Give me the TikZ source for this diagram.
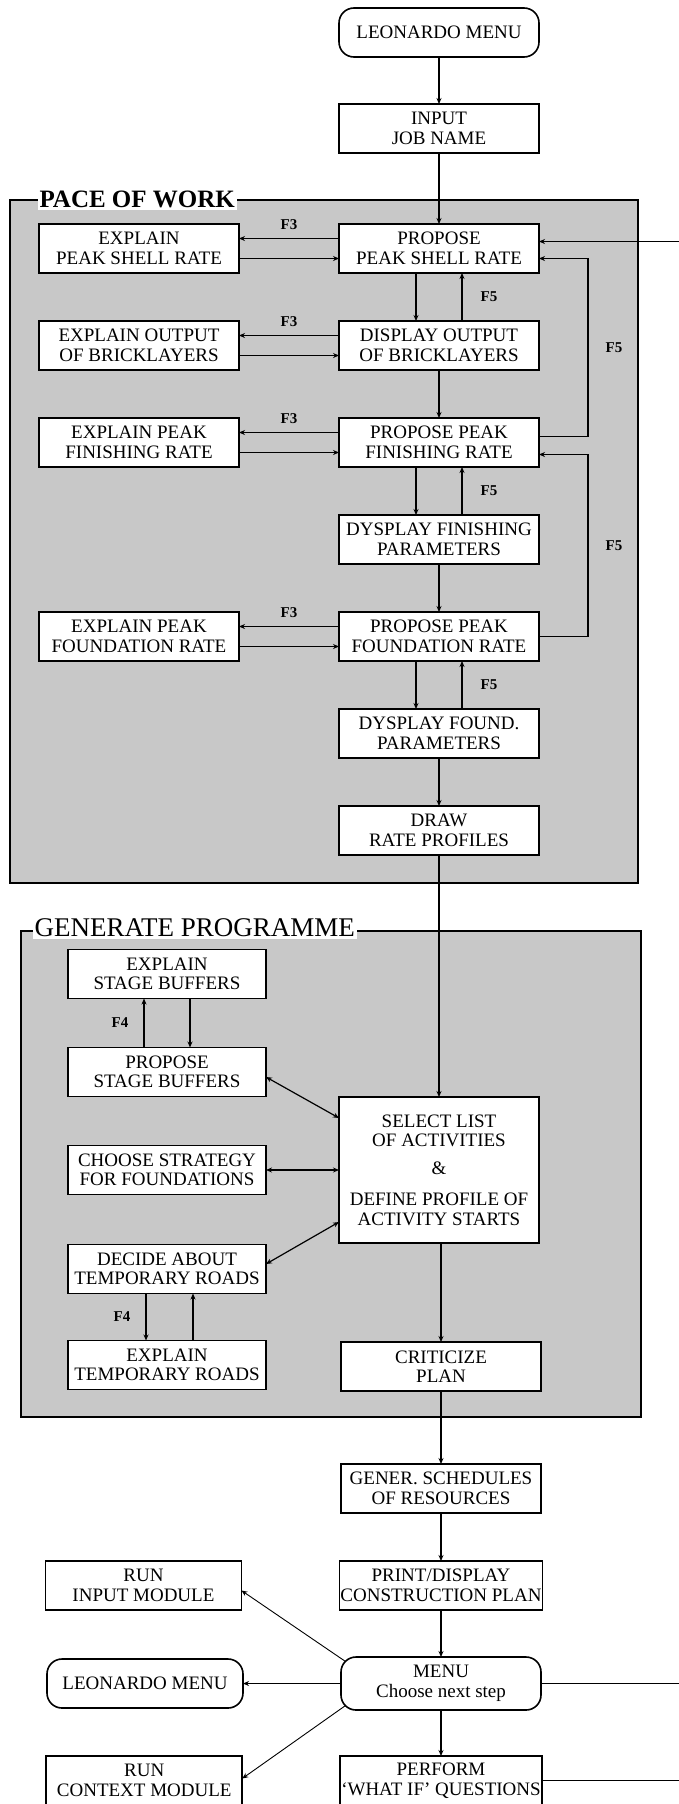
\documentclass[tikz,border=0pt]{standalone}
\usepackage{fontspec}
\setmainfont{Liberation Serif}
\usetikzlibrary{arrows.meta, positioning, fit, backgrounds}
\definecolor{stipple}{HTML}{C8C8C8}

\begin{document}
\begin{tikzpicture}[
    x=1pt, y=1pt,
    node distance=48pt and 100pt,
    box/.style={rectangle, draw=black, fill=white, line width=1.6pt, outer sep=0pt, minimum width=200pt, minimum height=49pt, inner sep=1pt, align=center, font=\fontsize{19}{19.5}\selectfont},
    roundbox/.style={box, rounded corners=15pt},
    groupframe/.style={draw=black, fill=stipple, line width=1.3pt, inner sep=0pt},
    grouptitle/.style={fill=white, inner sep=2pt, anchor=base west},
    arrow/.style={-{Stealth[length=6pt, width=5pt]}, line width=1.2pt},
    twoway/.style={arrow, {Stealth[length=6pt, width=5pt]}-{Stealth[length=6pt, width=5pt]}},
    link/.style={line width=0.9pt},
    fkey/.style={font=\bfseries\fontsize{15}{15}\selectfont, inner sep=1pt}
]
\useasboundingbox (0,0) rectangle (679,-1804);
\coordinate (edge) at (679,0);
\coordinate (loopx) at (588,0);
\coordinate (extshell) at (679,-241.5);

\node[roundbox] (lmenu) at (439,-32.5) {LEONARDO MENU};
\node[box, below=47pt of lmenu] (input) {INPUT\\JOB NAME};
\node[box, below=71pt of input] (shell) {PROPOSE\\PEAK SHELL RATE};
\node[box, left=of shell] (xshell) {EXPLAIN\\PEAK SHELL RATE};
\node[box, below=of shell] (display) {DISPLAY OUTPUT\\OF BRICKLAYERS};
\node[box, left=of display] (xoutput) {EXPLAIN OUTPUT\\OF BRICKLAYERS};
\node[box, below=of display] (finish) {PROPOSE PEAK\\FINISHING RATE};
\node[box, left=of finish] (xfinish) {EXPLAIN PEAK\\FINISHING RATE};
\node[box, below=of finish] (dfinish) {DYSPLAY FINISHING\\PARAMETERS};
\node[box, below=of dfinish] (found) {PROPOSE PEAK\\FOUNDATION RATE};
\node[box, left=of found] (xfound) {EXPLAIN PEAK\\FOUNDATION RATE};
\node[box, below=of found] (dfound) {DYSPLAY FOUND.\\PARAMETERS};
\node[box, below=of dfound] (profiles) {DRAW\\RATE PROFILES};

\node[box, minimum height=146pt, below=242pt of profiles] (select) {SELECT LIST\\OF ACTIVITIES\\[8pt]\&\\[12pt]DEFINE PROFILE OF\\ACTIVITY STARTS};
\node[box, minimum width=198pt, left=73pt of select] (strategy) {CHOOSE STRATEGY\\FOR FOUNDATIONS};
\node[box, minimum width=198pt, above=49pt of strategy] (pstage) {PROPOSE\\STAGE BUFFERS};
\node[box, minimum width=198pt, above=49pt of pstage] (xstage) {EXPLAIN\\STAGE BUFFERS};
\node[box, minimum width=198pt, below=50pt of strategy] (decide) {DECIDE ABOUT\\TEMPORARY ROADS};
\node[box, minimum width=198pt, below=47pt of decide] (xroads) {EXPLAIN\\TEMPORARY ROADS};
\node[box, below=99pt of select, xshift=2pt] (critic) {CRITICIZE\\PLAN};

\node[box, below=73pt of critic] (gener) {GENER. SCHEDULES\\OF RESOURCES};
\node[box, below=of gener] (print) {PRINT/DISPLAY\\CONSTRUCTION PLAN};
\node[box, minimum width=196pt, left=98pt of print] (runinput) {RUN\\INPUT MODULE};
\node[roundbox, minimum height=53pt, below=47pt of print] (menu) {MENU\\Choose next step};
\node[roundbox, minimum width=196pt, left=98pt of menu] (lmenu2) {LEONARDO MENU};
\node[box, below=46pt of menu] (perform) {PERFORM\\`WHAT IF' QUESTIONS};
\node[box, minimum width=196pt, left=98pt of perform] (runcontext) {RUN\\CONTEXT MODULE};

\begin{scope}[on background layer]
\coordinate (pace nw) at (10,-200);
\coordinate (pace se) at (638,-883);
\node[groupframe, fit=(pace nw)(pace se)] (pace) {};
\coordinate (gen nw) at (21,-931);
\coordinate (gen se) at (641,-1417);
\node[groupframe, fit=(gen nw)(gen se)] (gen) {};
\end{scope}
\node[grouptitle, font=\bfseries\fontsize{25}{25}\selectfont] (pacetitle) at ([xshift=28pt, yshift=-8pt]pace.north west) {PACE OF WORK};
\node[grouptitle, font=\fontsize{27}{27}\selectfont] (gentitle) at ([xshift=12pt, yshift=-6pt]gen.north west) {GENERATE PROGRAMME};

\draw[arrow] (lmenu) -- (input);
\draw[arrow] (input) -- (shell);
\draw[arrow] (extshell) -- (extshell -| shell.east);
\draw[arrow] ([yshift=10pt]shell.west) -- node[fkey, above=7pt] {F3} ([yshift=10pt]xshell.east);
\draw[arrow] ([yshift=-10pt]xshell.east) -- ([yshift=-10pt]shell.west);
\draw[arrow] ([xshift=-23pt]shell.south) -- ([xshift=-23pt]display.north);
\draw[arrow] ([xshift=23pt]display.north) -- node[fkey, right=17pt] {F5} ([xshift=23pt]shell.south);
\draw[arrow] ([yshift=10pt]display.west) -- node[fkey, above=7pt] {F3} ([yshift=10pt]xoutput.east);
\draw[arrow] ([yshift=-10pt]xoutput.east) -- ([yshift=-10pt]display.west);
\draw[arrow] (display) -- (finish);
\draw[arrow] ([yshift=10pt]finish.west) -- node[fkey, above=7pt] {F3} ([yshift=10pt]xfinish.east);
\draw[arrow] ([yshift=-10pt]xfinish.east) -- ([yshift=-10pt]finish.west);
\draw[arrow] ([yshift=6pt]finish.east) -- ([yshift=6pt]finish.east -| loopx) |- node[fkey, pos=0.25, right=16pt] {F5} ([yshift=-10pt]shell.east);
\draw[arrow] ([xshift=-23pt]finish.south) -- ([xshift=-23pt]dfinish.north);
\draw[arrow] ([xshift=23pt]dfinish.north) -- node[fkey, right=17pt] {F5} ([xshift=23pt]finish.south);
\draw[arrow] (dfinish) -- (found);
\draw[arrow] ([yshift=10pt]found.west) -- node[fkey, above=7pt] {F3} ([yshift=10pt]xfound.east);
\draw[arrow] ([yshift=-10pt]xfound.east) -- ([yshift=-10pt]found.west);
\draw[arrow] (found.east) -- (found.east -| loopx) |- node[fkey, pos=0.25, right=16pt] {F5} ([yshift=-12pt]finish.east);
\draw[arrow] ([xshift=-23pt]found.south) -- ([xshift=-23pt]dfound.north);
\draw[arrow] ([xshift=23pt]dfound.north) -- node[fkey, right=17pt] {F5} ([xshift=23pt]found.south);
\draw[arrow] (dfound) -- (profiles);
\draw[arrow] (profiles) -- (select);

\draw[arrow] ([xshift=-23pt]pstage.north) -- node[fkey, left=14pt] {F4} ([xshift=-23pt]xstage.south);
\draw[arrow] ([xshift=23pt]xstage.south) -- ([xshift=23pt]pstage.north);
\draw[twoway] ([yshift=-5pt]pstage.east) -- ([yshift=52pt]select.west);
\draw[twoway] (strategy) -- (select);
\draw[twoway] ([yshift=5pt]decide.east) -- ([yshift=-52pt]select.west);
\draw[arrow] ([xshift=-21pt]decide.south) -- node[fkey, left=14pt] {F4} ([xshift=-21pt]xroads.north);
\draw[arrow] ([xshift=26pt]xroads.north) -- ([xshift=26pt]decide.south);
\draw[arrow] (select.south -| critic) -- (critic);

\draw[arrow] (critic) -- (gener);
\draw[arrow] (gener) -- (print);
\draw[arrow] (print) -- (menu);
\draw[arrow, link] ([xshift=4.4pt, yshift=-4.4pt]menu.north west) -- ([yshift=-5pt]runinput.east);
\draw[arrow, link] (menu) -- (lmenu2);
\draw[arrow, link] ([xshift=4.4pt, yshift=4.4pt]menu.south west) -- ([yshift=2pt]runcontext.east);
\draw[arrow] (menu) -- (perform);
\draw[link] (menu.east) -- (menu.east -| edge);
\draw[link] (perform.east) -- (perform.east -| edge);
\end{tikzpicture}
\end{document}
